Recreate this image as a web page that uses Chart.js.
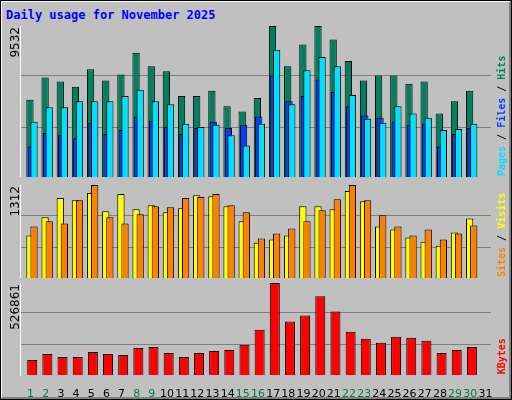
<!DOCTYPE html>
<html><head><meta charset="utf-8">
<script src="https://cdn.jsdelivr.net/npm/chart.js@4"></script>
<style>
html,body{margin:0;padding:0;background:#c0c0c0;}
#wrap{position:relative;width:512px;height:400px;background:#c0c0c0;box-sizing:border-box;border:1px solid #000;}
#bev{position:absolute;left:0;top:0;width:508px;height:396px;border-top:1px solid #fff;border-left:1px solid #fff;border-right:2px solid #808080;border-bottom:2px solid #808080;box-sizing:content-box;width:507px;height:395px}
#title{position:absolute;left:5px;top:7px;font:bold 12px "DejaVu Sans Mono",monospace;color:#0000ff;}
canvas{position:absolute;left:0;}
</style></head><body>
<div id="wrap"><div id="bev"></div>
<div id="title">Daily usage for November 2025</div>
<canvas id="c1" style="top:25px" width="512" height="151"></canvas>
<canvas id="c2" style="top:184px" width="512" height="93"></canvas>
<canvas id="c3" style="top:282px" width="512" height="117"></canvas>
</div>
<script>
const days = Array.from({length:31},(_,i)=>String(i+1));
const weekend = [1,2,8,9,15,16,22,23,29,30];
const hits  = [4874,6282,6022,5697,6802,6087,6477,7842,6997,6672,5112,5112,5437,4462,4137,4982,9532,6997,8362,9532,8687,7322,6087,6412,6412,5892,6022,4007,4787,5437,null];
const files = [3488,4397,4397,4787,4787,4787,5112,5502,4787,4592,3357,3162,3292,2643,1993,3357,8036,4592,6736,7581,6997,5177,3682,3422,4462,4007,3747,2967,3032,3357,null];
const pages = [1928,2772,2643,2448,3422,2708,2967,3812,3552,3162,2708,3097,3487,3097,3292,3812,6411,4787,5112,6151,5372,4462,3877,3747,3487,3292,3357,1928,2708,3097,null];
const visits = [599,856,1127,1098,1198,941,1184,970,1027,927,984,1169,1155,1013,799,499,542,599,1013,1013,970,1227,1084,727,685,570,513,456,642,841,null];
const sites  = [727,799,770,1098,1312,856,770,898,1013,998,1127,1141,1184,1027,927,556,628,699,799,956,1112,1312,1098,884,727,599,685,542,628,742,null];
const kbytes = [86845,121584,104213,104213,133163,121584,115794,156321,162112,127374,104213,127374,138953,144743,173691,260537,526861,306854,341592,451597,364751,248957,208429,185270,220009,214219,196850,127374,144743,162112,null];
const maxima = [9532,1312,526861];

const shiftPlugin = {id:'shift', afterDatasetsUpdate(chart){
  const slot = chart.scales.x.width/31;
  chart.data.datasets.forEach((ds,i)=>{
    const m = chart.getDatasetMeta(i);
    m.data.forEach(el=>{ el.x += (ds.shift||0)*slot; });
  });
}};
function textPlugin(maxLabel, parts){ return {id:'txt', afterDraw(chart){
  const c = chart.ctx, a = chart.chartArea;
  c.save();
  c.strokeStyle='#fff'; c.lineWidth=1;
  c.beginPath(); c.moveTo(a.left-0.5,a.top-2); c.lineTo(a.left-0.5,a.bottom+0.5); c.stroke();
  c.translate(15, a.top+1); c.rotate(-Math.PI/2);
  c.font='12px "DejaVu Sans"'; c.fillStyle='#000'; c.textAlign='right'; c.textBaseline='middle';
  c.fillText(maxLabel,0,0);
  c.restore();
  c.save();
  c.font='bold 10px "DejaVu Sans Mono"';
  const total = parts.reduce((s,p)=>s+c.measureText(p[0]).width,0);
  c.translate(501, a.bottom - 1); c.rotate(-Math.PI/2);
  c.textAlign='left'; c.textBaseline='middle';
  let x=0; parts.forEach(p=>{ c.fillStyle=p[1]; c.fillText(p[0],x,0); x+=c.measureText(p[0]).width; });
  c.restore();
}};}
function mk(id, max, datasets, showX, plugin, bottomPad){
  return new Chart(document.getElementById(id),{type:'bar',
    data:{labels:days, datasets},
    options:{responsive:false, animation:false, events:[],
      layout:{padding:{left:20,right:22,top:0,bottom:0}},
      plugins:{legend:{display:false},tooltip:{enabled:false}},
      scales:{
        x:{display:showX, grid:{display:false}, border:{display:false},
           afterFit:s=>{s.height=showX?24.7:0;},
           ticks:{labelOffset:2,padding:4,autoSkip:false,maxRotation:0,font:{family:'DejaVu Sans',size:11},
                  color:c=>weekend.includes(c.index+1)?'#008040':'#000'}},
        y:{min:0,max:max, afterFit:s=>{s.width=0;},
           afterBuildTicks:s=>{s.ticks=[{value:max*0.33},{value:max*0.675}];},
           ticks:{display:false}, border:{display:false},
           grid:{color:'#808080',drawTicks:false,lineWidth:1}}
      }},
    plugins:[shiftPlugin, plugin]});
}
const bw = {borderColor:'#000',borderWidth:1,categoryPercentage:1,grouped:false};
mk('c1',maxima[0],[
  {data:files,backgroundColor:'#00e0ff',barPercentage:0.48,shift:0.36,...bw},
  {data:pages,backgroundColor:'#0040ff',barPercentage:0.48,shift:0.18,...bw},
  {data:hits,backgroundColor:'#00805c',barPercentage:0.48,shift:0.09,...bw}
],false,textPlugin('9532',[['Pages','#00e0ff'],[' / ','#000'],['Files','#0040ff'],[' / ','#000'],['Hits','#00805c']]));
mk('c2',maxima[1],[
  {data:sites,backgroundColor:'#ff8000',barPercentage:0.48,shift:0.36,...bw},
  {data:visits,backgroundColor:'#ffff00',barPercentage:0.48,shift:0.09,...bw}
],false,textPlugin('1312',[['Sites','#ff8000'],[' / ','#000'],['Visits','#ffff00']]));
const ch3 = mk('c3',maxima[2],[
  {data:kbytes,backgroundColor:'#ff0000',barPercentage:0.66,shift:0.24,...bw}
],true,textPlugin('526861',[['KBytes','#ff0000']]));
</script>
</body></html>
